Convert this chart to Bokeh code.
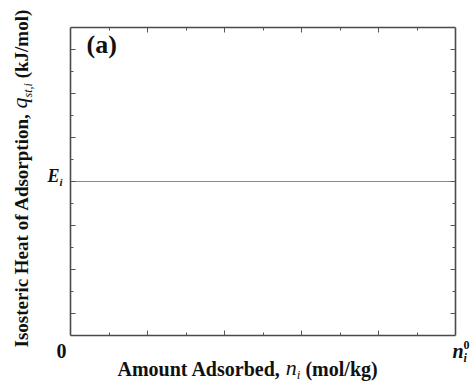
import math
from bokeh.plotting import figure
from bokeh.models import Label, FixedTicker, LinearAxis, Range1d
from bokeh.embed import file_html
from bokeh.resources import INLINE

# ---- data ----
x_limits = [0, 10]          # 0 .. n_i^0
y_limits = [0, 14]
x_major_ticks = [2, 4, 6, 8]
x_minor_ticks = [1, 3, 5, 7, 9]
y_major_ticks = [1, 3, 5, 7, 9, 11, 13]
y_minor_ticks = [2, 4, 6, 8, 10, 12]
E_level = 7
E_line_x = [0, 10]
E_line_y = [E_level, E_level]

# ---- layout (pixels) ----
W, H = 470, 383
LEFT, RIGHT, TOP, BOTTOM = 70, 15, 27, 48
FONT = "Liberation Serif"
INK = "#111111"

x0, x1 = x_limits
y0, y1 = y_limits
sx = (W - LEFT - RIGHT) / (x1 - x0)
sy = (H - TOP - BOTTOM) / (y1 - y0)

# Times-like widths (em)
W_BOLD = {
    'A': .722, 'm': .833, 'o': .5, 'u': .556, 'n': .556, 't': .333, ' ': .25,
    'd': .556, 's': .389, 'r': .444, 'b': .556, 'e': .444, ',': .25, '(': .333,
    ')': .333, 'l': .278, '/': .278, 'k': .556, 'g': .5, 'I': .389, 'i': .278,
    'c': .444, 'H': .778, 'a': .5, 'f': .333, 'p': .556, 'J': .5, 'E': .667,
    '0': .5,
}
W_ITAL = {'n': .5, 'q': .5, 'i': .278, 's': .389, 't': .278, ',': .25, 'E': .611}


def tw(text, size, table=W_BOLD):
    return sum(table.get(c, .5) for c in text) * size


p = figure(width=W, height=H, output_backend="svg", toolbar_location=None,
           x_range=Range1d(x0 - LEFT / sx, x1 + RIGHT / sx),
           y_range=Range1d(y0 - BOTTOM / sy, y1 + TOP / sy),
           x_axis_location=None, y_axis_location=None, min_border=0)
p.outline_line_color = None
p.grid.visible = False
p.background_fill_color = "white"
p.border_fill_color = "white"


def make_axis(major, minor, loc, bounds):
    return LinearAxis(
        ticker=FixedTicker(ticks=major, minor_ticks=minor),
        fixed_location=loc, bounds=bounds,
        axis_line_color="#4a4a4a", axis_line_width=1.6,
        major_tick_in=5, major_tick_out=0, minor_tick_in=3, minor_tick_out=0,
        major_tick_line_color="#555555", minor_tick_line_color="#555555",
        major_tick_line_width=1, minor_tick_line_width=1,
        major_label_text_font_size="0px", major_label_standoff=0,
        major_label_text_alpha=0)


p.add_layout(make_axis(x_major_ticks, x_minor_ticks, y0, tuple(x_limits)), "below")
p.add_layout(make_axis(x_major_ticks, x_minor_ticks, y1, tuple(x_limits)), "above")
p.add_layout(make_axis(y_major_ticks, y_minor_ticks, x0, tuple(y_limits)), "left")
p.add_layout(make_axis(y_major_ticks, y_minor_ticks, x1, tuple(y_limits)), "right")

p.line(E_line_x, E_line_y, line_color="#8a8a8a", line_width=1.1)

SHIFT = 0.38  # baseline correction, in em


def lab(x, y, text, size, style="bold", dx=0, dy=0, align="left", angle=0):
    if angle == 0:
        dy += SHIFT * size
    else:
        dx -= SHIFT * size
    p.add_layout(Label(x=x, y=y, x_offset=dx, y_offset=dy, text=text,
                       text_font=FONT, text_font_size=f"{size}px",
                       text_font_style=style, text_align=align,
                       text_baseline="alphabetic", angle=angle,
                       text_color=INK))


# panel tag
lab(x0, y1, "(a)", 26, dx=16, dy=-27)

# axis end labels
lab(x0, y0, "0", 20, dx=-9, dy=-23, align="center")
lab(x1, y0, "n", 20, "bold italic", dx=-3, dy=-23)
lab(x1, y0, "i", 12, "bold italic", dx=-3 + 11, dy=-27)
lab(x1, y0, "0", 12, "bold", dx=-3 + 11, dy=-14)

# E_i label on y axis
lab(x0, E_level, "E", 18, "bold italic", dx=-23, dy=-1)
lab(x0, E_level, "i", 11, "bold italic", dx=-23 + 12, dy=-5)

# x-axis title
xs = 20
part1 = "Amount Adsorbed,"
dx = 47
lab(x0, y0, part1, xs, dx=dx, dy=-41)
dx += tw(part1 + " ", xs)
lab(x0, y0, "n", 22, "italic", dx=dx, dy=-40)
dx += tw("n", 22, W_ITAL)
lab(x0, y0, "i", 13, "italic", dx=dx, dy=-44)
dx += tw("i", 13, W_ITAL) + tw(" ", xs)
lab(x0, y0, "(mol/kg)", xs, dx=dx, dy=-41)

# y-axis title (rotated, reading upward)
ys = 19
ang = math.pi / 2
part1 = "Isosteric Heat of Adsorption,"
dy = -12
bx = -42
lab(x0, y0, part1, ys, dx=bx, dy=dy, angle=ang)
dy += tw(part1 + " ", ys)
lab(x0, y0, "q", 22, "italic", dx=bx - 1, dy=dy, angle=ang)
dy += tw("q", 22, W_ITAL)
lab(x0, y0, "st,i", 12, "italic", dx=bx + 4, dy=dy, angle=ang)
dy += tw("st,i", 12, W_ITAL) + tw(" ", ys)
lab(x0, y0, "(kJ/mol)", ys, dx=bx, dy=dy, angle=ang)

open("out.html", "w").write(file_html(p, INLINE))
